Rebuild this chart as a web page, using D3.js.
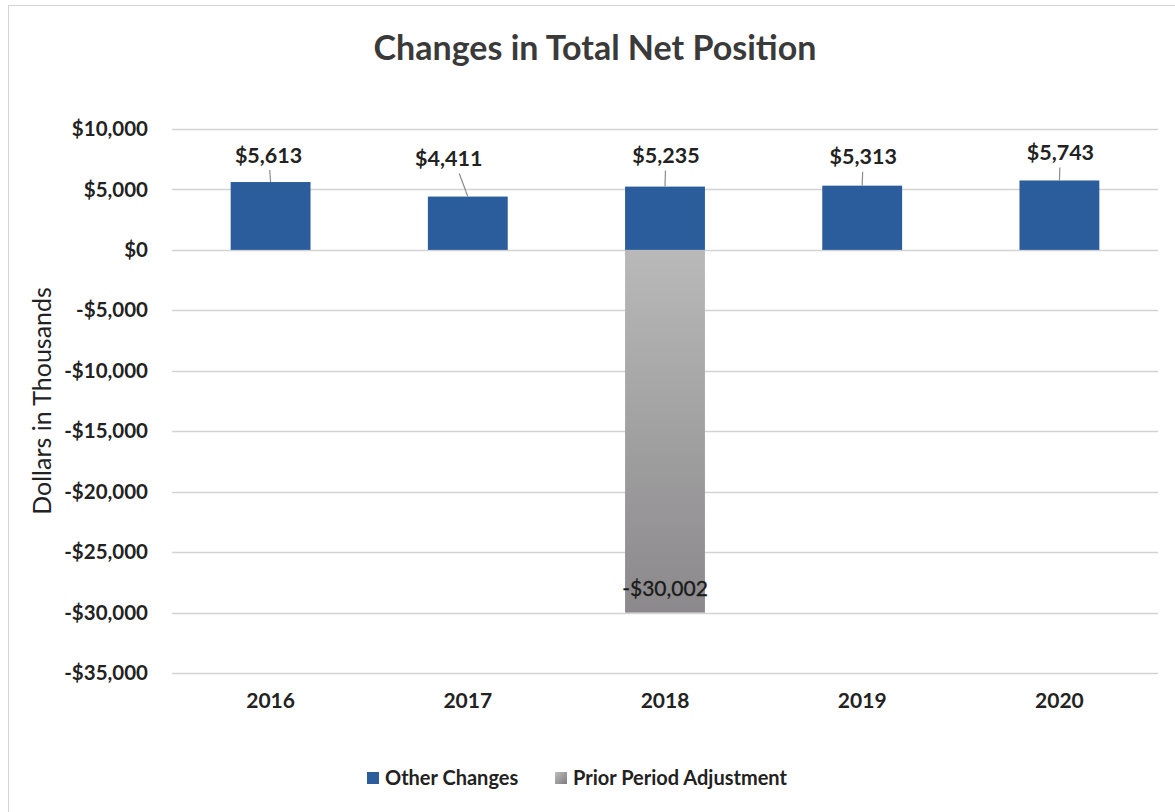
<!DOCTYPE html>
<html>
<head>
<meta charset="utf-8">
<script src="https://cdn.jsdelivr.net/npm/d3@7"></script>
<style>
  html, body { margin: 0; padding: 0; background: #fff; }
  svg { display: block; font-family: Lato, "Open Sans", sans-serif; }
</style>
</head>
<body>
<div id="chart"></div>
<script>
// data
const years = ["2016", "2017", "2018", "2019", "2020"];
const otherChanges = [5613, 4411, 5235, 5313, 5743];
const priorAdjustment = [0, 0, -30002, 0, 0];
const yTicks = [10000, 5000, 0, -5000, -10000, -15000, -20000, -25000, -30000, -35000];
const seriesNames = ["Other Changes", "Prior Period Adjustment"];

const width = 1175;
const height = 812;
const margin = { top: 129, right: 17, bottom: 139, left: 172 };

// where the dragged data labels sit, relative to the top of each bar
const labelShift = [[-2, -27], [-19, -38], [1, -31], [1, -29], [1, -28]];

const blue = "#2b5c9c";
const ink = "#222";

const svg = d3.select("#chart").append("svg")
  .attr("width", width)
  .attr("height", height);

const defs = svg.append("defs");
const grad = defs.append("linearGradient")
  .attr("id", "grayFill")
  .attr("x1", 0).attr("y1", 0).attr("x2", 0).attr("y2", 1);
grad.append("stop").attr("offset", "0%").attr("stop-color", "#b9b9b9");
grad.append("stop").attr("offset", "100%").attr("stop-color", "#8b898b");

const legGrad = defs.append("linearGradient")
  .attr("id", "grayLegend")
  .attr("x1", 0).attr("y1", 0).attr("x2", 1).attr("y2", 1);
legGrad.append("stop").attr("offset", "0%").attr("stop-color", "#bdbdbd");
legGrad.append("stop").attr("offset", "100%").attr("stop-color", "#7e7c7e");

// chart area frame
svg.append("rect")
  .attr("x", 8.5).attr("y", 5.5)
  .attr("width", width + 10).attr("height", height + 10)
  .attr("fill", "none")
  .attr("stroke", "#d4d4d4");

const x = d3.scaleBand()
  .domain(years)
  .range([margin.left, width - margin.right])
  .paddingInner(0.595)
  .paddingOuter(0.2975);

const y = d3.scaleLinear()
  .domain([-35000, 10000])
  .range([height - margin.bottom, margin.top]);

const money = v => (v < 0 ? "-$" : "$") + d3.format(",")(Math.abs(v));

// gridlines
svg.append("g")
  .attr("stroke", "#d3d3d3")
  .attr("stroke-width", 1.3)
  .selectAll("line")
  .data(yTicks)
  .join("line")
  .attr("x1", margin.left)
  .attr("x2", width - margin.right)
  .attr("y1", d => Math.round(y(d)) + 0.5)
  .attr("y2", d => Math.round(y(d)) + 0.5);

// y axis labels
const yAxis = svg.append("g")
  .attr("transform", `translate(${margin.left - 24},0)`)
  .call(d3.axisLeft(y).tickValues(yTicks).tickSize(0).tickPadding(0).tickFormat(money));
yAxis.select(".domain").remove();
yAxis.selectAll("text")
  .attr("font-family", "Lato, 'Open Sans', sans-serif")
  .attr("font-size", 20.5)
  .attr("font-weight", "bold")
  .attr("fill", ink);

// x axis labels
const xAxis = svg.append("g")
  .attr("transform", `translate(0,${y(-35000) + 20})`)
  .call(d3.axisBottom(x).tickSize(0).tickPadding(0));
xAxis.select(".domain").remove();
xAxis.selectAll("text")
  .attr("font-family", "Lato, 'Open Sans', sans-serif")
  .attr("font-size", 21)
  .attr("font-weight", "bold")
  .attr("fill", ink)
  .attr("dy", "0.72em");

// prior period adjustment bars
svg.append("g")
  .selectAll("rect")
  .data(years.filter((d, i) => priorAdjustment[i] !== 0))
  .join("rect")
  .attr("x", d => x(d))
  .attr("width", x.bandwidth())
  .attr("y", y(0))
  .attr("height", d => y(priorAdjustment[years.indexOf(d)]) - y(0))
  .attr("fill", "url(#grayFill)");

// other changes bars
svg.append("g")
  .selectAll("rect")
  .data(years)
  .join("rect")
  .attr("x", d => x(d))
  .attr("width", x.bandwidth())
  .attr("y", (d, i) => y(otherChanges[i]))
  .attr("height", (d, i) => y(0) - y(otherChanges[i]))
  .attr("fill", blue);

// leader lines and labels
const labels = svg.append("g");
years.forEach((d, i) => {
  const bx = x(d) + x.bandwidth() / 2;
  const by = y(otherChanges[i]);
  const lx = bx + labelShift[i][0];
  const ly = by + labelShift[i][1];
  labels.append("line")
    .attr("x1", lx + (bx - lx) * 0.55)
    .attr("y1", ly + 15)
    .attr("x2", bx)
    .attr("y2", by)
    .attr("stroke", "#8c8c8c")
    .attr("stroke-width", 1.2);
  labels.append("text")
    .attr("x", lx)
    .attr("y", ly)
    .attr("dy", "0.35em")
    .attr("text-anchor", "middle")
    .attr("font-size", 21.5)
    .attr("font-weight", "bold")
    .attr("fill", ink)
    .text(money(otherChanges[i]));
});

years.forEach((d, i) => {
  if (priorAdjustment[i] === 0) return;
  labels.append("text")
    .attr("x", x(d) + x.bandwidth() / 2)
    .attr("y", y(priorAdjustment[i]) - 24)
    .attr("dy", "0.35em")
    .attr("text-anchor", "middle")
    .attr("font-size", 21)
    .attr("fill", "#1a1a1a")
    .attr("stroke", "#1a1a1a")
    .attr("stroke-width", 0.3)
    .text(money(priorAdjustment[i]));
});

// title
svg.append("text")
  .attr("x", 595)
  .attr("y", 60)
  .attr("text-anchor", "middle")
  .attr("font-size", 34)
  .attr("font-weight", "bold")
  .attr("fill", "#3a3a3a")
  .text("Changes in Total Net Position");

// y axis title
svg.append("text")
  .attr("transform", "translate(42,401) rotate(-90)")
  .attr("dy", "0.35em")
  .attr("text-anchor", "middle")
  .attr("font-size", 25)
  .attr("fill", ink)
  .text("Dollars in Thousands");

// legend
const legend = svg.append("g").attr("transform", "translate(367,778)");
const legX = [0, 188];
const legFill = [blue, "url(#grayLegend)"];
seriesNames.forEach((name, i) => {
  const g = legend.append("g").attr("transform", `translate(${legX[i]},0)`);
  g.append("rect")
    .attr("x", 0).attr("y", -6)
    .attr("width", 12).attr("height", 12)
    .attr("fill", legFill[i]);
  g.append("text")
    .attr("x", 18)
    .attr("dy", "0.35em")
    .attr("font-size", 20)
    .attr("font-weight", "bold")
    .attr("fill", ink)
    .text(name);
});
</script>
</body>
</html>
